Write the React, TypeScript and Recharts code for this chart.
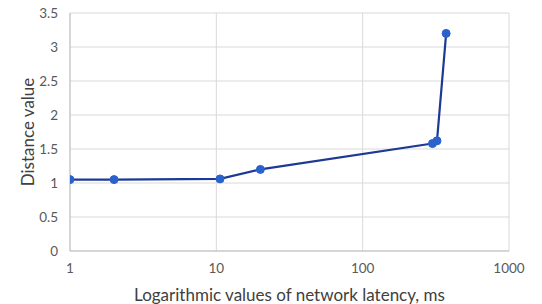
import { LineChart, Line, XAxis, YAxis, CartesianGrid } from "recharts"

// latency (ms, log axis) vs distance
const latency = [1, 2, 10.6, 20, 300, 322, 372]
const distance = [1.05, 1.05, 1.06, 1.2, 1.58, 1.62, 3.2]
const xTicks = [1, 10, 100, 1000]
const yTicks = [0, 0.5, 1, 1.5, 2, 2.5, 3, 3.5]

const data = latency.map((x, i) => ({ x, y: distance[i] }))

const FONT = "Lato, 'Open Sans', sans-serif"
const tick = { fontSize: 13.5, fill: "#595959", fontFamily: FONT }

export default function App() {
  return (
    <div style={{ position: "absolute", left: 0, top: 0, background: "#fff" }}>
      <LineChart width={542} height={304} data={data} margin={{ top: 13, right: 33, bottom: 0, left: 0 }}>
        <CartesianGrid stroke="#d9d9d9" strokeWidth={1} />
        <XAxis
          dataKey="x"
          type="number"
          scale="log"
          domain={[1, 1000]}
          ticks={xTicks}
          allowDataOverflow
          height={53}
          tick={tick}
          tickLine={false}
          tickMargin={6}
          axisLine={{ stroke: "#bfbfbf" }}
          label={{
            value: "Logarithmic values of network latency, ms",
            position: "insideBottom",
            offset: 3,
            style: { fontSize: 17, fill: "#404040", fontFamily: FONT },
          }}
        />
        <YAxis
          type="number"
          domain={[0, 3.5]}
          ticks={yTicks}
          width={70}
          tick={tick}
          tickLine={false}
          tickMargin={6}
          axisLine={{ stroke: "#bfbfbf" }}
          label={{
            value: "Distance value",
            angle: -90,
            position: "insideLeft",
            offset: 28,
            style: { textAnchor: "middle", fontSize: 17, fill: "#404040", fontFamily: FONT },
          }}
        />
        <Line
          dataKey="y"
          type="linear"
          stroke="#1c3a93"
          strokeWidth={2.2}
          dot={{ r: 4, fill: "#2a62cc", stroke: "#2a62cc", strokeWidth: 1 }}
          isAnimationActive={false}
        />
      </LineChart>
    </div>
  )
}
